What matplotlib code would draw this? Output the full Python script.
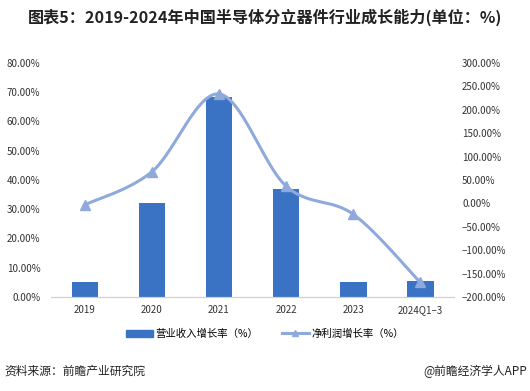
import numpy as np
import matplotlib
matplotlib.use("Agg")
import matplotlib.pyplot as plt
from matplotlib.lines import Line2D
from matplotlib.patches import Patch

plt.rcParams['font.family'] = ['Noto Sans CJK SC', 'DejaVu Sans']

# ------------------------------------------------------
# DATA
# ------------------------------------------------------
years = ["2019", "2020", "2021", "2022", "2023", "2024Q1\u20133"]
revenue_growth = [5.1, 32.1, 68.4, 36.9, 5.1, 5.5]          # %
profit_growth = [-3.0, 67.7, 233.8, 37.0, -23.0, -168.6]    # %

BAR_COLOR = "#3a73c3"
LINE_COLOR = "#8eaadc"


def smooth(x, y, n=30):
    # Excel-like smoothed line: cubic bezier with Catmull-Rom control points
    x = np.asarray(x, float)
    y = np.asarray(y, float)
    xs, ys = [], []
    for i in range(len(x) - 1):
        p0 = (x[max(i - 1, 0)], y[max(i - 1, 0)])
        p1 = (x[i], y[i])
        p2 = (x[i + 1], y[i + 1])
        p3 = (x[min(i + 2, len(x) - 1)], y[min(i + 2, len(x) - 1)])
        c1 = (p1[0] + (p2[0] - p0[0]) / 6, p1[1] + (p2[1] - p0[1]) / 6)
        c2 = (p2[0] - (p3[0] - p1[0]) / 6, p2[1] - (p3[1] - p1[1]) / 6)
        t = np.linspace(0, 1, n)
        b0 = (1 - t) ** 3
        b1 = 3 * (1 - t) ** 2 * t
        b2 = 3 * (1 - t) * t ** 2
        b3 = t ** 3
        xs.append(b0 * p1[0] + b1 * c1[0] + b2 * c2[0] + b3 * p2[0])
        ys.append(b0 * p1[1] + b1 * c1[1] + b2 * c2[1] + b3 * p2[1])
    return np.concatenate(xs), np.concatenate(ys)


fig = plt.figure(figsize=(5.3, 3.91), dpi=100)
ax = fig.add_axes([0.097, 0.2404, 0.759, 0.5986])
ax2 = ax.twinx()

x = np.arange(len(years))
ax.bar(x, revenue_growth, width=0.4, color=BAR_COLOR, zorder=2)

# line on the secondary axis, drawn above the bars
ax2.set_zorder(ax.get_zorder() + 1)
ax.patch.set_visible(False)
sx, sy = smooth(x, profit_growth)
ax2.plot(sx, sy, color=LINE_COLOR, lw=2.2, solid_capstyle="round")
ax2.plot(x, profit_growth, linestyle="none", marker="^", ms=7,
         color=LINE_COLOR, markeredgecolor=LINE_COLOR)

ax.set_xlim(-0.5, len(years) - 0.5)
ax.set_ylim(0, 80)
ax.set_yticks(np.arange(0, 81, 10))
ax.set_yticklabels([f"{v:.2f}%" for v in np.arange(0, 81, 10)])
ax2.set_ylim(-200, 300)
ax2.set_yticks(np.arange(-200, 301, 50))
ax2.set_yticklabels([f"{v:.2f}%".replace("-", "\u2212") for v in np.arange(-200, 301, 50)])

ax.set_xticks(x)
ax.set_xticklabels(years)

for a in (ax, ax2):
    for s in ("top", "left", "right"):
        a.spines[s].set_visible(False)
    a.spines["bottom"].set_color("#d0d0d0")
    a.tick_params(length=0, labelsize=7, colors="#333333")
ax.tick_params(axis="x", pad=6)
ax.tick_params(axis="y", pad=8)
ax2.tick_params(axis="y", pad=6)

fig.text(0.5, 0.955, "图表5：2019-2024年中国半导体分立器件行业成长能力(单位：%)",
         ha="center", va="center", fontsize=11.6, fontweight="bold", color="#222222")

handles = [Patch(color=BAR_COLOR),
           Line2D([0], [0], color=LINE_COLOR, lw=2.2, marker="^", ms=5)]
fig.legend(handles, ["营业收入增长率（%）", "净利润增长率（%）"],
           loc="center", bbox_to_anchor=(0.5, 0.146), ncol=2, frameon=False,
           fontsize=7.5, handlelength=2.6, columnspacing=2.2, handletextpad=0.3)

fig.text(0.008, 0.050, "资料来源：前瞻产业研究院", ha="left", va="center",
         fontsize=8.5, color="#222222")
fig.text(0.995, 0.050, "@前瞻经济学人APP", ha="right", va="center",
         fontsize=8.5, color="#222222")

fig.savefig("out.png", dpi=100)
